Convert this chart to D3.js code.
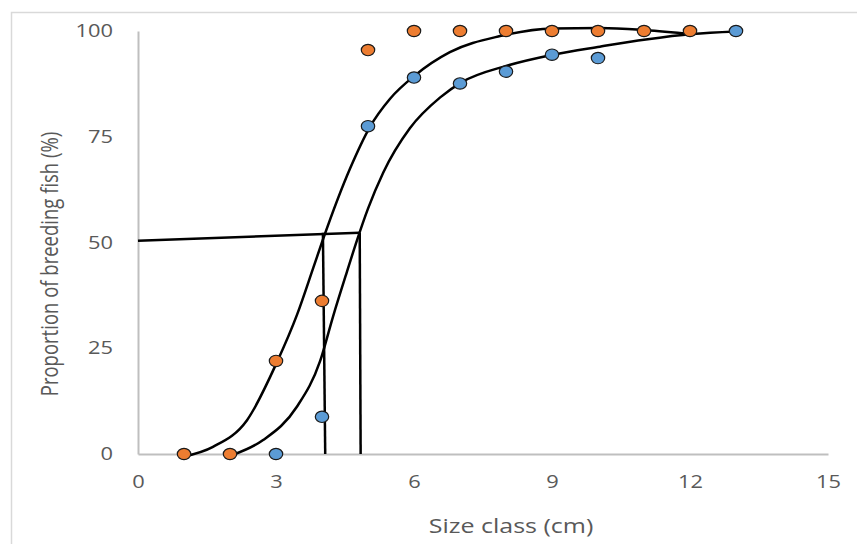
<!DOCTYPE html>
<html>
<head>
<meta charset="utf-8">
<script src="https://cdn.jsdelivr.net/npm/d3@7"></script>
<style>
  body { margin: 0; background: #fff; }
  svg { display: block; }
  .tick text { fill: #595959; font-family: "Open Sans", sans-serif; font-size: 17.5px; }
  .title { fill: #595959; font-family: "Open Sans", sans-serif; font-size: 20px; }
</style>
</head>
<body>
<div id="chart"></div>
<script>
// observed proportions per size class
const orangeX = [1, 2, 3, 4, 5, 6, 7, 8, 9, 10, 11, 12];
const orangeY = [0, 0, 22, 36.2, 95.5, 100, 100, 100, 100, 100, 100, 100];
const blueX = [3, 4, 5, 6, 7, 8, 9, 10, 13];
const blueY = [0, 8.8, 77.5, 89, 87.6, 90.4, 94.4, 93.6, 100];

// fitted curves
const fitAX = [1.0, 1.63, 2.37, 3.02, 3.46, 3.81, 4.03, 4.61, 5.04, 5.48, 6.02, 6.78, 7.87, 9.02, 10.04, 11.04, 12.04];
const fitAY = [-0.6, 1.7, 8, 21.7, 33, 44, 51, 67.5, 77.3, 84, 89.5, 95, 98.8, 100.6, 100.7, 100.2, 99.3];
const fitBX = [2.04, 2.72, 3.45, 3.96, 4.24, 4.54, 4.76, 5.0, 5.33, 5.91, 6.57, 7.04, 8.02, 9.02, 10.04, 11.04, 12.04, 13.0];
const fitBY = [-0.3, 3.3, 11.1, 22, 32.5, 43, 50.5, 58, 66.5, 77, 84.3, 87.9, 91.8, 94.4, 96.3, 98, 99.3, 99.9];

// 50% guide lines: start, left knee, right knee
const guideX = [0, 4.02, 4.82];
const guideY = [50.4, 52.3, 52.3];

const xTicks = [0, 3, 6, 9, 12, 15];
const yTicks = [0, 25, 50, 75, 100];

const width = 857, height = 544;
const margin = {left: 138, right: 29, top: 31, bottom: 90};
const stretch = 1.25; // the reference text is widened

const svg = d3.select("#chart").append("svg")
  .attr("width", width)
  .attr("height", height);

// chart area border
svg.append("rect")
  .attr("x", 11.5).attr("y", 12.5)
  .attr("width", width + 20).attr("height", height + 20)
  .attr("fill", "none")
  .attr("stroke", "#d9d9d9")
  .attr("stroke-width", 1.5);

const x = d3.scaleLinear().domain([0, 15]).range([margin.left, width - margin.right]);
const y = d3.scaleLinear().domain([0, 100]).range([height - margin.bottom, margin.top]);

const xAxis = svg.append("g")
  .attr("transform", "translate(0," + y(0) + ")")
  .call(d3.axisBottom(x).tickValues(xTicks).tickSize(0).tickPadding(22));
xAxis.select(".domain").attr("stroke", "#bfbfbf").attr("stroke-width", 2);
xAxis.selectAll(".tick text").attr("transform", "scale(" + stretch + ",1)");

const yAxis = svg.append("g")
  .attr("transform", "translate(" + x(0) + ",0)")
  .call(d3.axisLeft(y).tickValues(yTicks).tickSize(0));
yAxis.select(".domain").attr("stroke", "#bfbfbf").attr("stroke-width", 2);
yAxis.selectAll(".tick text")
  .attr("x", -25 / stretch)
  .attr("transform", "scale(" + stretch + ",1)");

svg.append("text")
  .attr("class", "title")
  .attr("transform", "translate(511,533) scale(" + stretch + ",1)")
  .attr("text-anchor", "middle")
  .text("Size class (cm)");

svg.append("text")
  .attr("class", "title")
  .style("font-size", "18.5px")
  .attr("transform", "translate(58,264) rotate(-90) scale(1," + stretch + ")")
  .attr("text-anchor", "middle")
  .text("Proportion of breeding fish (%)");

const line = d3.line()
  .x(d => x(d[0]))
  .y(d => y(d[1]))
  .curve(d3.curveMonotoneX);

const fits = [d3.zip(fitAX, fitAY), d3.zip(fitBX, fitBY)];
svg.selectAll(".fit").data(fits).join("path")
  .attr("class", "fit")
  .attr("d", line)
  .attr("fill", "none")
  .attr("stroke", "#000")
  .attr("stroke-width", 2.5);

// guide lines: slanted horizontal plus two drops to the axis
const guides = [
  [[guideX[0], guideY[0]], [guideX[2], guideY[2]]],
  [[guideX[1], guideY[1]], [guideX[1] + 0.05, 0]],
  [[guideX[2], guideY[2]], [guideX[2] + 0.02, 0]]
];
svg.selectAll(".guide").data(guides).join("path")
  .attr("class", "guide")
  .attr("d", d3.line().x(d => x(d[0])).y(d => y(d[1])))
  .attr("fill", "none")
  .attr("stroke", "#000")
  .attr("stroke-width", 2.5);

const series = [
  {xs: orangeX, ys: orangeY, color: "#ed7d31"},
  {xs: blueX, ys: blueY, color: "#5b9bd5"}
];
series.forEach(s => {
  svg.append("g").selectAll("ellipse")
    .data(d3.zip(s.xs, s.ys))
    .join("ellipse")
    .attr("cx", d => x(d[0]))
    .attr("cy", d => y(d[1]))
    .attr("rx", 6.7)
    .attr("ry", 5.7)
    .attr("fill", s.color)
    .attr("stroke", "#1a1a1a")
    .attr("stroke-width", 1.2);
});
</script>
</body>
</html>
